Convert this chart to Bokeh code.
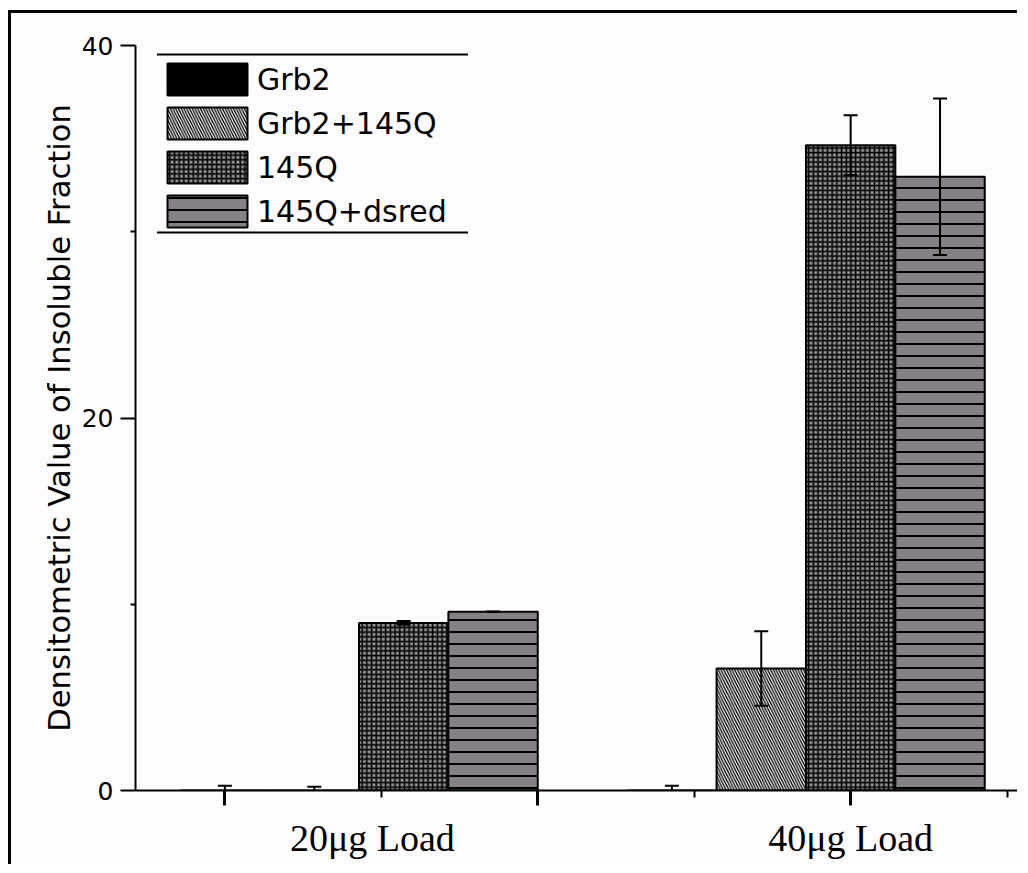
from bokeh.plotting import figure
from bokeh.models import (ColumnDataSource, Whisker, TeeHead, FixedTicker, LinearAxis,
                          Legend, LegendItem, Range1d)
from bokeh.embed import file_html
from bokeh.resources import INLINE

# ---- data ----
groups = ["20μg Load", "40μg Load"]
series = ["Grb2", "Grb2+145Q", "145Q", "145Q+dsred"]
grb2 = [0.0, 0.0]
grb2_err = [0.25, 0.25]
grb2_145q = [0.0, 6.55]
grb2_145q_err = [0.2, 2.0]
q145 = [9.0, 34.65]
q145_err = [0.1, 1.6]
q145_dsred = [9.6, 32.95]
q145_dsred_err = [0.0, 4.2]
y_ticks = [0, 20, 40]
y_minor_ticks = [10, 30]

values = [grb2, grb2_145q, q145, q145_dsred]
errors = [grb2_err, grb2_145q_err, q145_err, q145_dsred_err]

BG = "#fffcff"
SANS = "DejaVu Sans"
SERIF = "Liberation Serif"

styles = [
    dict(fill_color="black"),
    dict(fill_color=BG, hatch_pattern="\\", hatch_color="black", hatch_scale=5.5, hatch_weight=1.3),
    dict(fill_color="#959397", hatch_pattern="+", hatch_color="black", hatch_scale=4.7, hatch_weight=1.6),
    dict(fill_color="#878087", hatch_pattern="-", hatch_color="black", hatch_scale=12, hatch_weight=2),
]

p = figure(width=1009, height=854, x_range=Range1d(-1.0, 8.9), y_range=Range1d(0, 40),
           output_backend="svg", toolbar_location=None,
           min_border_left=124, min_border_top=32, min_border_right=0, min_border_bottom=77,
           background_fill_color=BG, border_fill_color=BG,
           styles={"border-top": "3px solid black", "border-left": "3px solid black",
                   "margin-top": "10px", "margin-left": "8px"})
p.outline_line_color = None
p.grid.visible = False

slots_per_group = len(series) + 1
renderers = []
for i, (name, vals, errs, st) in enumerate(zip(series, values, errors, styles)):
    xs = [g * slots_per_group + i for g in range(len(groups))]
    src = ColumnDataSource(dict(x=xs, top=vals,
                                upper=[v + e for v, e in zip(vals, errs)],
                                lower=[v - e for v, e in zip(vals, errs)]))
    r = p.vbar(x="x", top="top", bottom=0, width=1.0, source=src,
               line_color="black", line_width=2, **st)
    renderers.append(r)
    w = Whisker(source=src, base="x", upper="upper", lower="lower", level="overlay",
                line_color="black", line_width=2,
                upper_head=TeeHead(size=14, line_width=2, line_color="black"),
                lower_head=TeeHead(size=14, line_width=2, line_color="black"))
    p.add_layout(w)

# y axis
ya = p.yaxis[0]
ya.ticker = FixedTicker(ticks=y_ticks, minor_ticks=y_minor_ticks)
ya.axis_line_width = 2
ya.major_tick_line_width = 2
ya.minor_tick_line_width = 2
ya.major_tick_out = 15
ya.major_tick_in = 0
ya.minor_tick_out = 5
ya.minor_tick_in = 0
ya.major_label_standoff = 7
ya.major_label_text_font = SANS
ya.major_label_text_font_size = "25px"
ya.major_label_text_color = "black"
ya.axis_label = "Densitometric Value of Insoluble Fraction"
ya.axis_label_text_font = SANS
ya.axis_label_text_font_size = "30.6px"
ya.axis_label_text_font_style = "normal"
ya.axis_label_text_color = "black"
ya.axis_label_standoff = 2

# x axis (ticks only, labels not drawn)
xa = p.xaxis[0]
xa.ticker = FixedTicker(ticks=[0, 3.5, 7.0], minor_ticks=[1.75, 5.25, 8.75])
xa.axis_line_width = 2
xa.major_tick_line_width = 3
xa.minor_tick_line_width = 2
xa.major_tick_out = 15
xa.major_tick_in = 0
xa.minor_tick_out = 7
xa.minor_tick_in = 0
xa.major_label_text_font_size = "0px"
xa.major_label_text_color = None
xa.major_label_standoff = 0

# group labels axis
label_pos = [1.65, 7.0]
la = LinearAxis(ticker=FixedTicker(ticks=label_pos, minor_ticks=[]),
                major_label_overrides={pos: g for pos, g in zip(label_pos, groups)},
                axis_line_color=None, major_tick_line_color=None, minor_tick_line_color=None,
                major_tick_out=0, major_tick_in=0, major_label_standoff=11,
                major_label_text_font=SERIF, major_label_text_font_size="38px",
                major_label_text_color="black")
p.add_layout(la, "below")

# legend
legend = Legend(items=[LegendItem(label=n, renderers=[r]) for n, r in zip(series, renderers)],
                location=(22, 559), border_line_color=None, background_fill_alpha=0,
                glyph_width=100, glyph_height=40, label_height=40, spacing=4, padding=0, margin=0,
                label_standoff=0, label_text_font=SANS, label_text_font_size="30px",
                label_text_color="black")
p.add_layout(legend)
# legend rules (top & bottom lines)
p.segment(x0=[-0.76, -0.76], x1=[2.72, 2.72], y0=[39.52, 29.96], y1=[39.52, 29.96],
          line_color="black", line_width=2)

open("out.html", "w").write(file_html(p, INLINE))
